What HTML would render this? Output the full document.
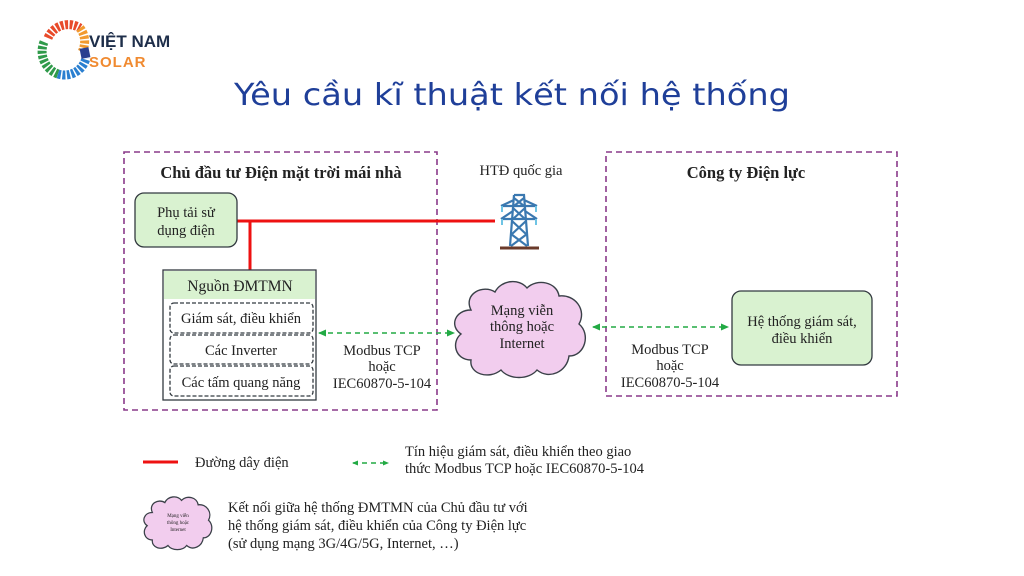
<!DOCTYPE html>
<html><head><meta charset="utf-8"><style>
html,body{margin:0;padding:0;background:#fff;width:1024px;height:576px;overflow:hidden}
svg{display:block}
.t{font-family:"Liberation Serif",serif;fill:#222}
</style></head><body>
<svg width="1024" height="576" viewBox="0 0 1024 576" xmlns="http://www.w3.org/2000/svg">
<defs>
<marker id="ah" markerWidth="8" markerHeight="8" refX="7" refY="4" orient="auto-start-reverse" markerUnits="userSpaceOnUse">
<path d="M0,0.5 L8,4 L0,7.5 Z" fill="#22aa44"/></marker>
<marker id="ahs" markerWidth="6" markerHeight="6" refX="5" refY="3" orient="auto-start-reverse" markerUnits="userSpaceOnUse">
<path d="M0,0.5 L6,3 L0,5.5 Z" fill="#22aa44"/></marker>
</defs>
<!-- Logo -->
<g>
<path d="M48,38 A22,22 0 0 1 80,28" stroke="#e84a2a" stroke-width="9" fill="none" stroke-dasharray="3 1.5"/>
<path d="M80,28 A22,22 0 0 1 82,52" stroke="#f29a2e" stroke-width="9" fill="none" stroke-dasharray="3 1.5"/>
<path d="M44,42 A24,24 0 0 0 58,74" stroke="#2f9a4a" stroke-width="9" fill="none" stroke-dasharray="3 1.5"/>
<path d="M58,74 A22,22 0 0 0 86,58" stroke="#2a7fd0" stroke-width="9" fill="none" stroke-dasharray="3 1.5"/>
<path d="M86,58 L84,48" stroke="#2a3f8f" stroke-width="9" fill="none"/>
<text x="89" y="47" font-family="Liberation Sans,sans-serif" font-weight="bold" font-size="17" fill="#1e2e4a">VIỆT NAM</text>
<text x="89" y="67" font-family="Liberation Sans,sans-serif" font-weight="bold" font-size="15" fill="#f08a30" letter-spacing="1">SOLAR</text>
</g>
<text x="512" y="105" text-anchor="middle" font-family="DejaVu Sans,sans-serif" font-size="30" fill="#1f3f99" textLength="556" lengthAdjust="spacingAndGlyphs">Yêu cầu kĩ thuật kết nối hệ thống</text>

<!-- dashed containers -->
<rect x="124" y="152" width="313" height="258" fill="none" stroke="#8a3a8a" stroke-width="1.6" stroke-dasharray="6 4"/>
<rect x="606" y="152" width="291" height="244" fill="none" stroke="#8a3a8a" stroke-width="1.6" stroke-dasharray="6 4"/>
<text class="t" x="281" y="178" text-anchor="middle" font-size="16.5" font-weight="bold">Chủ đầu tư Điện mặt trời mái nhà</text>
<text class="t" x="746" y="178" text-anchor="middle" font-size="16.5" font-weight="bold">Công ty Điện lực</text>
<text class="t" x="521" y="175" text-anchor="middle" font-size="14.5">HTĐ quốc gia</text>

<!-- red lines -->
<line x1="237" y1="221" x2="495" y2="221" stroke="#ee1111" stroke-width="3"/>
<line x1="250" y1="221" x2="250" y2="270" stroke="#ee1111" stroke-width="3"/>

<!-- Phu tai -->
<rect x="135" y="193" width="102" height="54" rx="9" fill="#d9f2d0" stroke="#333a40" stroke-width="1.3"/>
<text class="t" x="186" y="217" text-anchor="middle" font-size="14.5">Phụ tải sử</text>
<text class="t" x="186" y="235" text-anchor="middle" font-size="14.5">dụng điện</text>

<!-- Nguon -->
<rect x="163" y="270" width="153" height="130" fill="#fff" stroke="#333a40" stroke-width="1.3"/>
<rect x="164" y="271" width="151" height="28" fill="#d9f2d0"/>
<text class="t" x="240" y="291" text-anchor="middle" font-size="15.5">Nguồn ĐMTMN</text>
<rect x="170" y="303" width="143" height="30" rx="4" fill="none" stroke="#333a40" stroke-width="1.3" stroke-dasharray="4 2"/>
<rect x="170" y="335" width="143" height="29" rx="4" fill="none" stroke="#333a40" stroke-width="1.3" stroke-dasharray="4 2"/>
<rect x="170" y="366" width="143" height="30" rx="4" fill="none" stroke="#333a40" stroke-width="1.3" stroke-dasharray="4 2"/>
<text class="t" x="241" y="323" text-anchor="middle" font-size="14.5">Giám sát, điều khiển</text>
<text class="t" x="241" y="355" text-anchor="middle" font-size="14.5">Các Inverter</text>
<text class="t" x="241" y="387" text-anchor="middle" font-size="14.5">Các tấm quang năng</text>

<!-- arrows -->
<line x1="319" y1="333" x2="454" y2="333" stroke="#22aa44" stroke-width="1.6" stroke-dasharray="5 4" marker-start="url(#ah)" marker-end="url(#ah)"/>
<line x1="593" y1="327" x2="728" y2="327" stroke="#22aa44" stroke-width="1.6" stroke-dasharray="5 4" marker-start="url(#ah)" marker-end="url(#ah)"/>
<text class="t" x="382" y="355" text-anchor="middle" font-size="14.5">Modbus TCP</text>
<text class="t" x="382" y="371" text-anchor="middle" font-size="14.5">hoặc</text>
<text class="t" x="382" y="388" text-anchor="middle" font-size="14.5">IEC60870-5-104</text>
<text class="t" x="670" y="354" text-anchor="middle" font-size="14.5">Modbus TCP</text>
<text class="t" x="670" y="370" text-anchor="middle" font-size="14.5">hoặc</text>
<text class="t" x="670" y="387" text-anchor="middle" font-size="14.5">IEC60870-5-104</text>

<!-- cloud -->
<g transform="translate(453,280)">
<path d="M18,30 C10,14 30,4 42,12 C48,0 66,-2 74,8 C84,-2 104,2 106,16 C122,14 134,30 126,44 C138,54 132,76 116,76 C114,92 96,100 84,90 C76,100 56,100 48,90 C36,100 16,94 18,80 C2,80 -2,62 8,54 C-4,46 2,30 18,30 Z" fill="#f2cdee" stroke="#3a4048" stroke-width="1.4"/>
</g>
<text class="t" x="522" y="315" text-anchor="middle" font-size="14.5">Mạng viễn</text>
<text class="t" x="522" y="331" text-anchor="middle" font-size="14.5">thông hoặc</text>
<text class="t" x="522" y="348" text-anchor="middle" font-size="14.5">Internet</text>

<!-- HT giam sat -->
<rect x="732" y="291" width="140" height="74" rx="9" fill="#d9f2d0" stroke="#333a40" stroke-width="1.3"/>
<text class="t" x="802" y="326" text-anchor="middle" font-size="14.5">Hệ thống giám sát,</text>
<text class="t" x="802" y="343" text-anchor="middle" font-size="14.5">điều khiển</text>

<!-- tower -->
<g stroke="#3a78b0" stroke-width="2.2" fill="none">
<path d="M514,195 L524,195 L528,246 M514,195 L510,246"/>
<path d="M501,206 L537,206 M501,219 L537,219"/>
<path d="M514,198 L524,206 M524,198 L514,206 M513,208 L525,219 M525,208 L513,219 M512,221 L526,234 M526,221 L512,234 M511,234 L527,246 M527,234 L511,246"/>
<path d="M501,206 L514,200 M537,206 L524,200 M501,219 L513,211 M537,219 L525,211"/>
</g>
<g stroke="#6fc4e4" stroke-width="2"><path d="M502,206 v6 M536,206 v6 M502,219 v6 M536,219 v6"/></g>
<line x1="500" y1="248" x2="539" y2="248" stroke="#6a3a2a" stroke-width="3"/>

<!-- legend -->
<line x1="143" y1="462" x2="178" y2="462" stroke="#ee1111" stroke-width="3"/>
<text class="t" x="195" y="467" font-size="14.5">Đường dây điện</text>
<line x1="353" y1="463" x2="388" y2="463" stroke="#22aa44" stroke-width="1.6" stroke-dasharray="5 4" marker-start="url(#ahs)" marker-end="url(#ahs)"/>
<text class="t" x="405" y="456" font-size="14.5">Tín hiệu giám sát, điều khiển theo giao</text>
<text class="t" x="405" y="473" font-size="14.5">thức Modbus TCP hoặc IEC60870-5-104</text>
<g transform="translate(143,496) scale(0.52,0.55)">
<path d="M18,30 C10,14 30,4 42,12 C48,0 66,-2 74,8 C84,-2 104,2 106,16 C122,14 134,30 126,44 C138,54 132,76 116,76 C114,92 96,100 84,90 C76,100 56,100 48,90 C36,100 16,94 18,80 C2,80 -2,62 8,54 C-4,46 2,30 18,30 Z" fill="#f2cdee" stroke="#3a4048" stroke-width="2.4"/>
</g>
<text class="t" x="178" y="517" text-anchor="middle" font-size="5">Mạng viễn</text>
<text class="t" x="178" y="524" text-anchor="middle" font-size="5">thông hoặc</text>
<text class="t" x="178" y="531" text-anchor="middle" font-size="5">Internet</text>
<text class="t" x="228" y="512" font-size="14.5">Kết nối giữa hệ thống ĐMTMN của Chủ đầu tư với</text>
<text class="t" x="228" y="530" font-size="14.5">hệ thống giám sát, điều khiển của Công ty Điện lực</text>
<text class="t" x="228" y="548" font-size="14.5">(sử dụng mạng 3G/4G/5G, Internet, …)</text>
</svg>
</body></html>
